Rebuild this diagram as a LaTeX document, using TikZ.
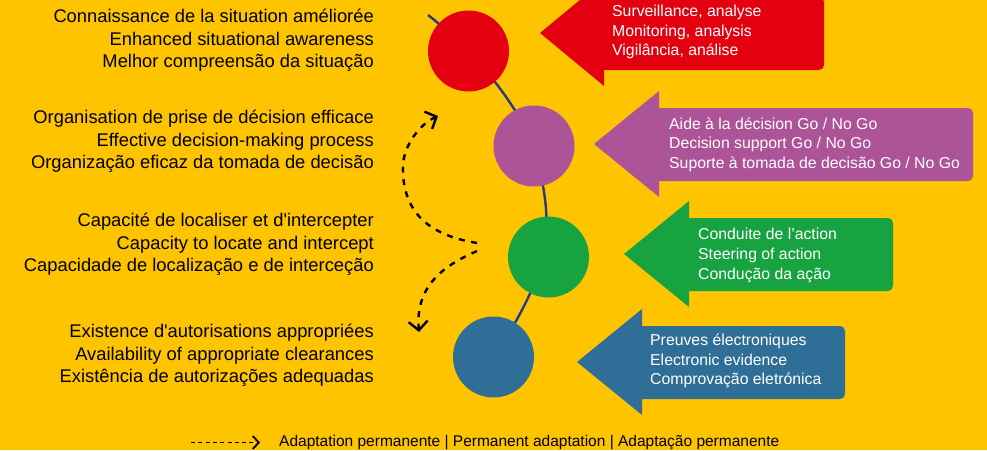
\documentclass[tikz,border=0pt]{standalone}
\usepackage{fontspec}
\newfontfamily\diagfont{Liberation Sans}
\usetikzlibrary{arrows.meta}
\definecolor{bgy}{HTML}{FFC400}
\definecolor{cred}{HTML}{E3000F}
\definecolor{cpur}{HTML}{AD5398}
\definecolor{cgrn}{HTML}{16A340}
\definecolor{cblu}{HTML}{2F6E96}
\definecolor{cline}{HTML}{2A3A80}
\tikzset{
  x=1pt,y=-1pt,
  disc/.style={circle,minimum size=81pt,inner sep=0pt},
  lefttext/.style={align=right,anchor=east,font=\diagfont\fontsize{18.35}{22.4}\selectfont,text=black,inner sep=0pt},
  righttext/.style={align=left,anchor=west,font=\diagfont\fontsize{15.8}{19.6}\selectfont,text=white,inner sep=0pt},
  dashcurve/.style={black,line width=2.4pt,dash pattern=on 6pt off 6.5pt},
  tipend/.style={-{Straight Barb[length=9pt,width=19pt,line width=2.4pt]}},
}
\newcommand{\bannerarrow}[5]{% colour, tip x, tip y, head x, right x
  \fill[#1,rounded corners=0pt] (#2,#3) -- (#4,#3-53) -- (#4,#3-36)
    [rounded corners=5pt] -- (#5,#3-36) -- (#5,#3+37) [rounded corners=0pt] -- (#4,#3+37) -- (#4,#3+53) -- cycle;
}
\begin{document}
\begin{tikzpicture}
\useasboundingbox (0,0) rectangle (987,450);
\fill[bgy] (0,0) rectangle (987,450);
\coordinate (ls) at (428,15);
\node[disc] (r) at (468.5,51) {};
\node[disc] (p) at (534,146) {};
\node[disc] (g) at (548.5,257) {};
\node[disc] (b) at (493.5,357) {};
\draw[cline,line width=2.4pt] (ls) .. controls (455,36) and (490,70) .. (516,112)
  .. controls (540,150) and (549,205) .. (546,235)
  .. controls (543,270) and (530,298) .. (505,340);
\fill[cred] (r) circle (40.5);
\fill[cpur] (p) circle (40.5);
\fill[cgrn] (g) circle (40.5);
\fill[cblu] (b) circle (40.5);
\bannerarrow{cred}{540}{33}{604}{824}
\bannerarrow{cpur}{594}{144}{659}{973}
\bannerarrow{cgrn}{624}{254}{689}{893}
\bannerarrow{cblu}{577}{362}{642}{845}
\node[righttext] (tr) at (612,32) {Surveillance, analyse\\Monitoring, analysis\\Vigilância, análise};
\node[righttext] (tp) at (669,144.5) {Aide à la décision Go / No Go\\Decision support Go / No Go\\Suporte à tomada de decisão Go / No Go};
\node[righttext] (tg) at (698,255.5) {Conduite de l’action\\Steering of action\\Condução da ação};
\node[righttext] (tb) at (650,361) {Preuves électroniques\\Electronic evidence\\Comprovação eletrónica};
\node[lefttext] (l1) at (374,40.5) {Connaissance de la situation améliorée\\Enhanced situational awareness\\Melhor compreensão da situação};
\node[lefttext] (l2) at (374,141.5) {Organisation de prise de décision efficace\\Effective decision-making process\\Organização eficaz da tomada de decisão};
\node[lefttext] (l3) at (374,244.5) {Capacité de localiser et d'intercepter\\Capacity to locate and intercept\\Capacidade de localização e de interceção};
\node[lefttext] (l4) at (374,355.5) {Existence d'autorisations appropriées\\Availability of appropriate clearances\\Existência de autorizações adequadas};
\coordinate (da) at (477,243);
\coordinate (db) at (438,116);
\coordinate (dc) at (477,251);
\coordinate (dd) at (419,332);
\draw[dashcurve,tipend] (da) .. controls (440,237) and (401,220) .. (403,165) .. controls (404,145) and (420,124) .. (db);
\draw[dashcurve,tipend] (dc) .. controls (445,265) and (415,285) .. (dd);
\coordinate (k1) at (191,442.5);
\coordinate (k2) at (260,442.5);
\draw[black,line width=1.8pt,dash pattern=on 4pt off 3.3pt,-{Straight Barb[length=6pt,width=13pt,line width=1.8pt]}] (k1) -- (k2);
\node[anchor=west,inner sep=0pt,font=\diagfont\fontsize{15.5}{17}\selectfont,text=black] (leg) at (279,442.5) {Adaptation permanente | Permanent adaptation | Adaptação permanente};
\end{tikzpicture}
\end{document}
